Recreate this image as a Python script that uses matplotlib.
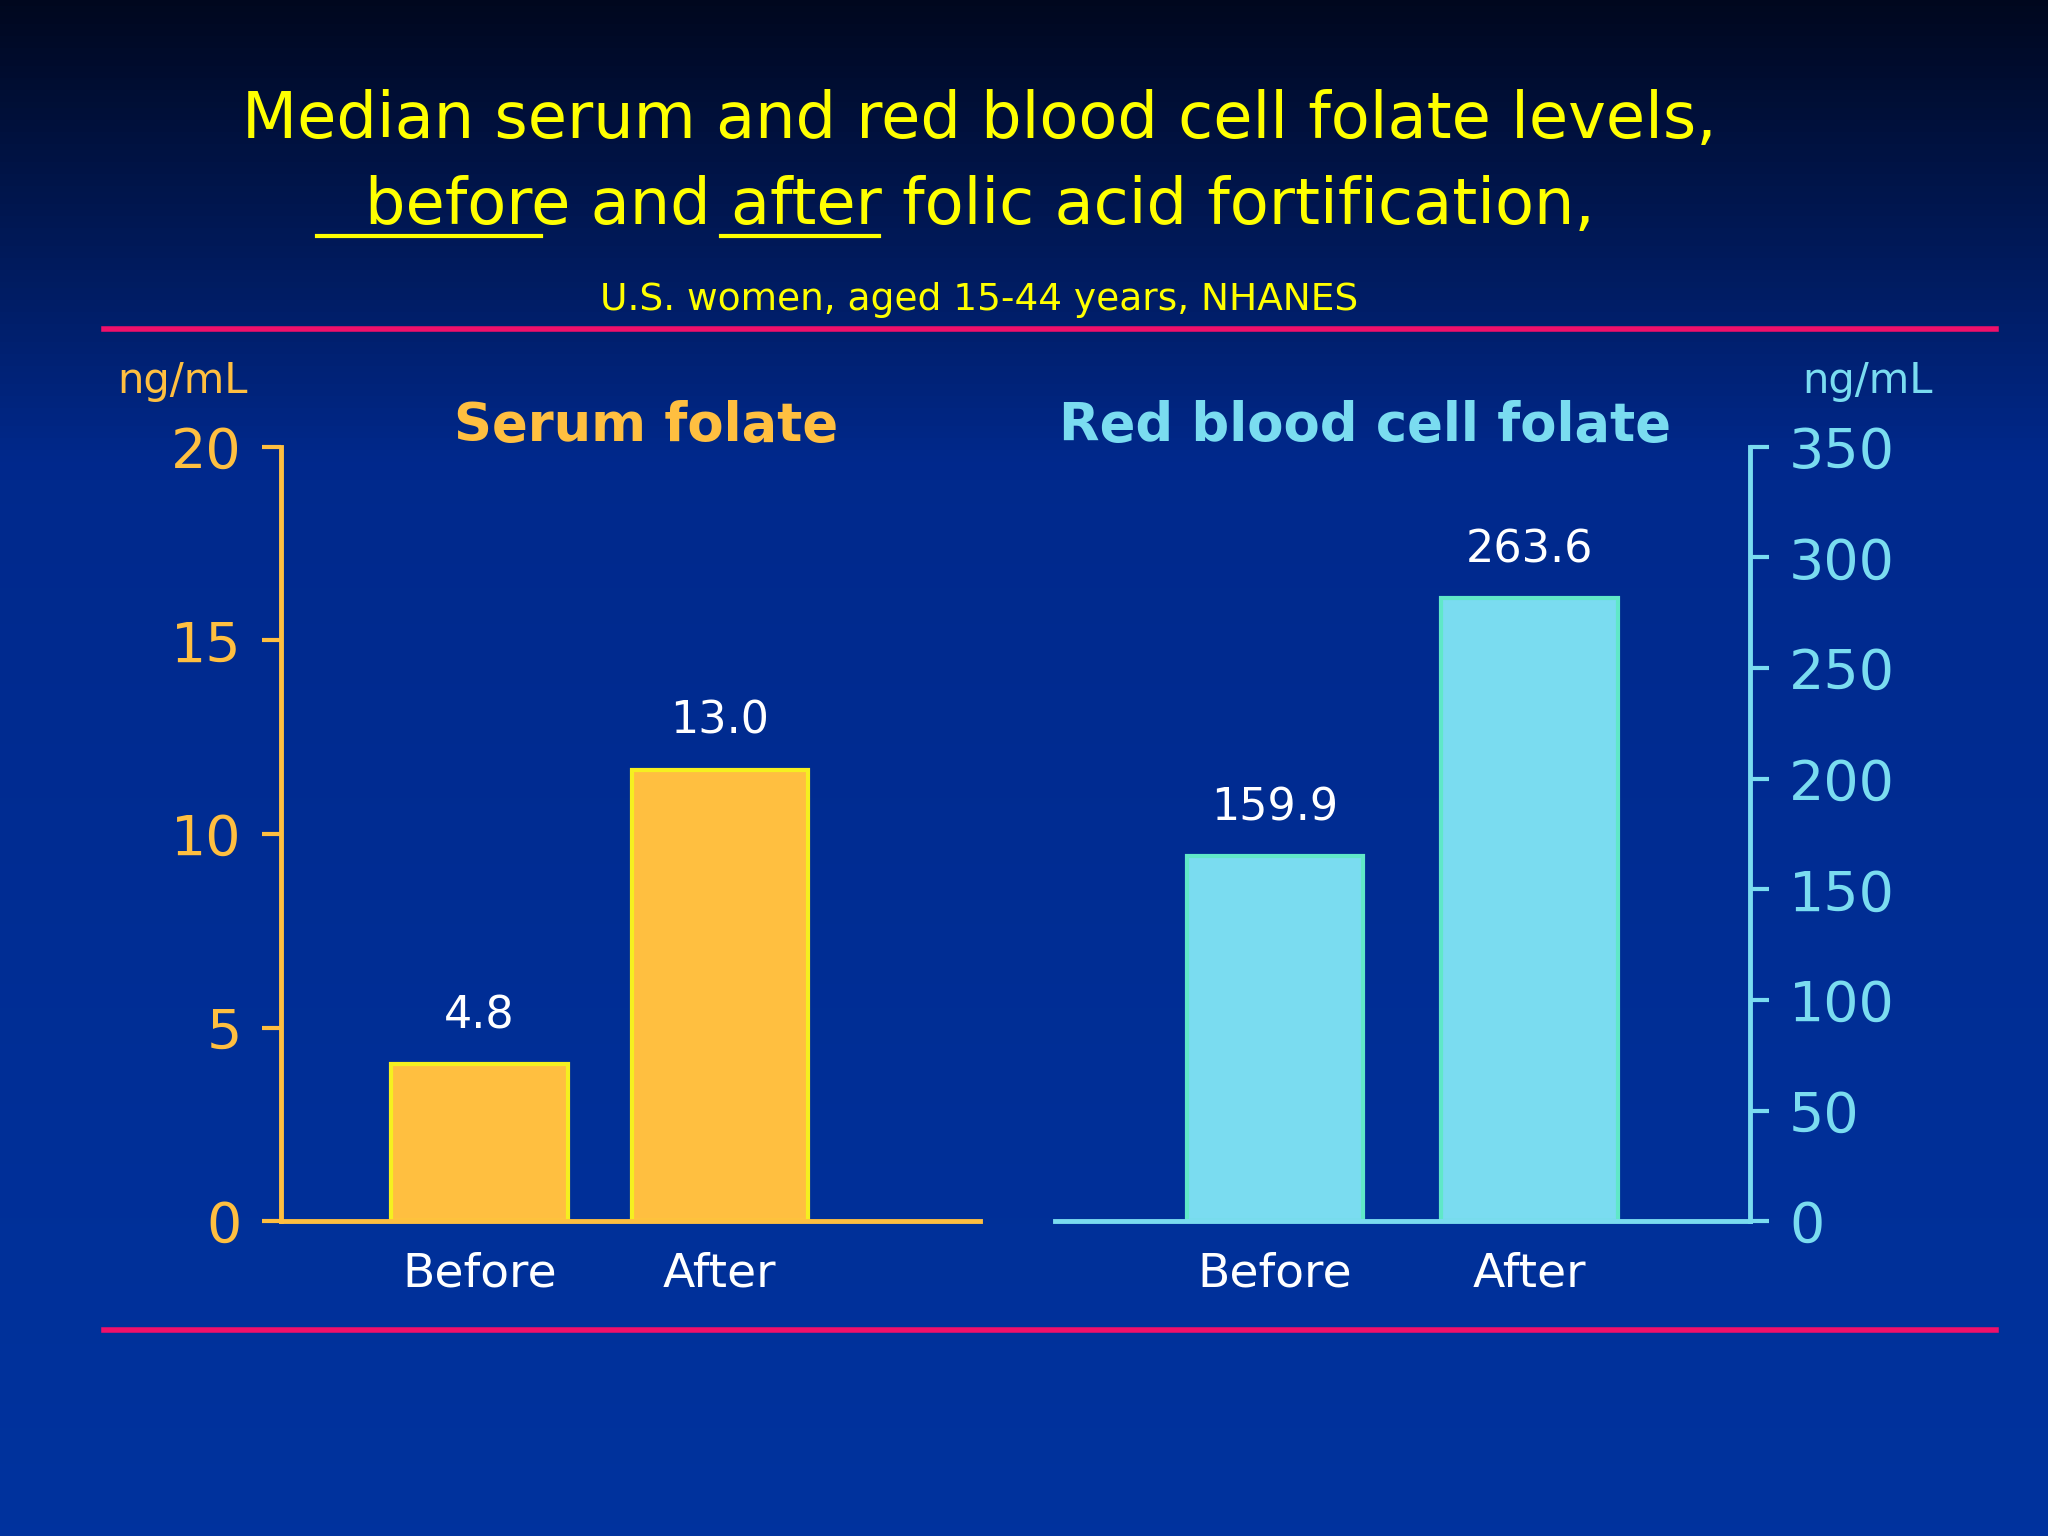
import numpy as np
import matplotlib.pyplot as plt

# data
groups = ["Before", "After"]
serum_labels = ["4.8", "13.0"]
serum_heights = [4.05, 11.65]      # bar heights as drawn on the slide
rbc_labels = ["159.9", "263.6"]
rbc_heights = [165, 281.5]

ORANGE = "#FFBF40"
CYAN = "#7ADCF0"
W, H = 1568, 1176  # reference pixel frame


def fx(x):
    return x / W


def fy(y):
    return 1 - y / H


fig = plt.figure(figsize=(20.48, 15.36), dpi=100)

# background gradient
bg = fig.add_axes([0, 0, 1, 1])
grad = np.linspace(0, 1, 256).reshape(-1, 1)
top = np.array([0.0, 0.03, 0.12])
mid = np.array([0.0, 0.16, 0.55])
bot = np.array([0.0, 0.2, 0.62])
colors = np.where(grad[..., None] < 0.3,
                  top + (mid - top) * (grad[..., None] / 0.3),
                  mid + (bot - mid) * ((grad[..., None] - 0.3) / 0.7))
bg.imshow(colors, aspect="auto", extent=[0, 1, 0, 1])
bg.set_xlim(0, 1)
bg.set_ylim(0, 1)
bg.axis("off")

# titles
fig.text(fx(750), fy(92), "Median serum and red blood cell folate levels,",
         color="#FFFF00", fontsize=46, ha="center", va="center")
fig.text(fx(750), fy(158), "before and after folic acid fortification,",
         color="#FFFF00", fontsize=46, ha="center", va="center")
for x0, x1 in [(243, 414), (552, 673)]:
    bg.plot([fx(x0), fx(x1)], [fy(181), fy(181)], color="#FFFF00", lw=3)
fig.text(fx(750), fy(230), "U.S. women, aged 15-44 years, NHANES",
         color="#FFFF00", fontsize=27, ha="center", va="center")
for y in [252, 1018]:
    bg.plot([fx(80), fx(1528)], [fy(y), fy(y)], color="#F0106A", lw=4)

# left panel: serum folate
ax1 = fig.add_axes([fx(215), fy(935), fx(535), fy(342) - fy(935)])
ax1.patch.set_alpha(0)
x1 = [152, 336]
ax1.bar(x1, serum_heights, width=135, color=ORANGE, edgecolor="#F5F020", lw=3)
for x, h, lab in zip(x1, serum_heights, serum_labels):
    ax1.text(x, h + 0.7, lab, color="white", fontsize=32, ha="center", va="bottom")
ax1.set_xlim(0, 535)
ax1.set_ylim(0, 20)
ax1.set_yticks([0, 5, 10, 15, 20])
ax1.set_xticks(x1)
ax1.set_xticklabels(groups)
ax1.tick_params(axis="y", colors=ORANGE, labelsize=40, width=3, length=14, pad=14)
ax1.tick_params(axis="x", colors="white", labelsize=34, length=0, pad=22)
for s in ["top", "right"]:
    ax1.spines[s].set_visible(False)
for s in ["left", "bottom"]:
    ax1.spines[s].set_color(ORANGE)
    ax1.spines[s].set_linewidth(3.5)
fig.text(fx(140), fy(292), "ng/mL", color=ORANGE, fontsize=30, ha="center", va="center")
fig.text(fx(495), fy(326), "Serum folate", color=ORANGE, fontsize=38,
         fontweight="bold", ha="center", va="center")

# right panel: red blood cell folate
ax2 = fig.add_axes([fx(808), fy(935), fx(532), fy(342) - fy(935)])
ax2.patch.set_alpha(0)
x2 = [168, 363]
ax2.bar(x2, rbc_heights, width=135, color=CYAN, edgecolor="#60E8C8", lw=3)
for x, h, lab in zip(x2, rbc_heights, rbc_labels):
    ax2.text(x, h + 12, lab, color="white", fontsize=32, ha="center", va="bottom")
ax2.set_xlim(0, 532)
ax2.set_ylim(0, 350)
ax2.yaxis.tick_right()
ax2.set_yticks(range(0, 351, 50))
ax2.set_xticks(x2)
ax2.set_xticklabels(groups)
ax2.tick_params(axis="y", colors=CYAN, labelsize=40, width=3, length=14, pad=14)
ax2.tick_params(axis="x", colors="white", labelsize=34, length=0, pad=22)
for s in ["top", "left"]:
    ax2.spines[s].set_visible(False)
for s in ["right", "bottom"]:
    ax2.spines[s].set_color(CYAN)
    ax2.spines[s].set_linewidth(3.5)
fig.text(fx(1430), fy(292), "ng/mL", color=CYAN, fontsize=30, ha="center", va="center")
fig.text(fx(1045), fy(326), "Red blood cell folate", color=CYAN, fontsize=38,
         fontweight="bold", ha="center", va="center")

fig.savefig("out.png", dpi=100)
